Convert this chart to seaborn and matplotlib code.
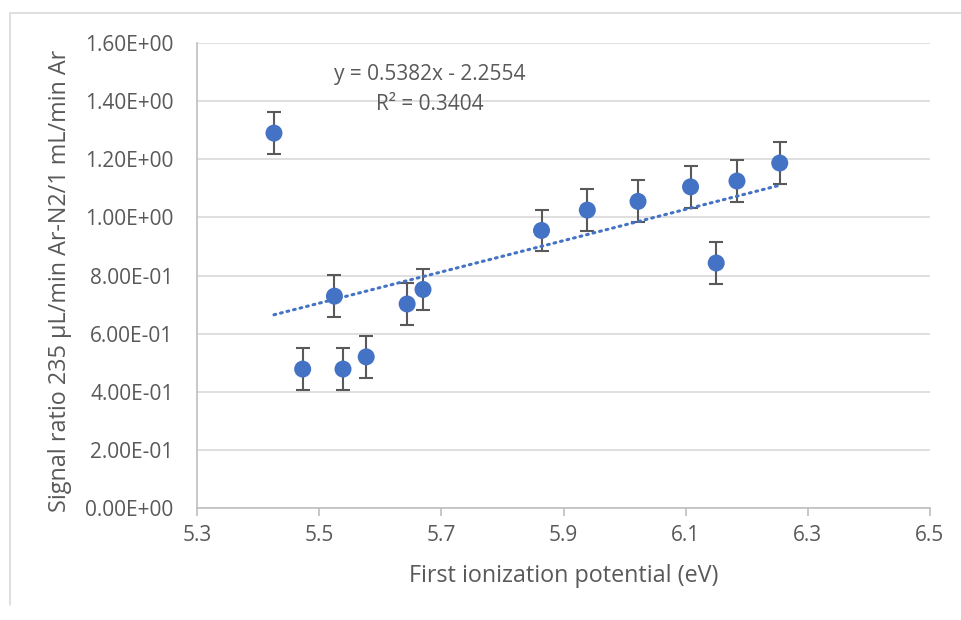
import numpy as np
import pandas as pd
import seaborn as sns
import matplotlib.pyplot as plt
from matplotlib.lines import Line2D

# First ionization potential (eV) and signal ratio
ip_ev = [5.426, 5.473, 5.525, 5.539, 5.577, 5.644, 5.670,
         5.864, 5.939, 6.022, 6.108, 6.150, 6.184, 6.254]
ratio = [1.290, 0.478, 0.729, 0.478, 0.520, 0.702, 0.752,
         0.955, 1.025, 1.055, 1.105, 0.843, 1.125, 1.187]
err = [0.072] * len(ratio)

# trendline shown on chart
slope, intercept = 0.5382, -2.2554
r2 = 0.3404

df = pd.DataFrame({'ip': ip_ev, 'ratio': ratio, 'err': err})

sns.set_style('white')
plt.rcParams['font.family'] = ['Open Sans', 'DejaVu Sans']
text_col = '#595959'
blue = '#4472C4'

fig = plt.figure(figsize=(9.61, 6.2), dpi=100)
ax = fig.add_axes([197 / 961, 1 - 508 / 620, 733 / 961, 465 / 620])

# outer chart border
fig.add_artist(Line2D([10 / 961, 1.0], [1 - 13 / 620, 1 - 13 / 620], color='#d9d9d9', lw=1.2))
fig.add_artist(Line2D([10 / 961, 10 / 961], [1 - 13 / 620, 1 - 605 / 620], color='#d9d9d9', lw=1.2))

ax.errorbar(df['ip'], df['ratio'], yerr=df['err'], fmt='none',
            ecolor='#595959', elinewidth=1.5, capsize=5, capthick=1.5, zorder=2)
sns.scatterplot(data=df, x='ip', y='ratio', ax=ax, color=blue, s=150,
                edgecolor='none', zorder=3, legend=False)

xs = np.array([min(ip_ev), max(ip_ev)])
ax.plot(xs, slope * xs + intercept, color=blue, lw=2.2, ls=(0, (0.6, 1.6)),
        dash_capstyle='round', zorder=4)

ax.text(5.681, 1.49, 'y = %.4fx - %.4f' % (slope, -intercept), ha='center', va='center',
        fontsize=15, color=text_col)
ax.text(5.681, 1.387, 'R² = %.4f' % r2, ha='center', va='center',
        fontsize=15, color=text_col)

ax.set_xlim(5.3, 6.5)
ax.set_ylim(0, 1.6)
ax.set_xticks(np.arange(5.3, 6.51, 0.2))
ax.set_xticklabels(['5.3', '5.5', '5.7', '5.9', '6.1', '6.3', '6.5'])
yt = np.arange(0, 1.61, 0.2)
ax.set_yticks(yt)
ax.set_yticklabels(['%.2E' % v for v in yt])
ax.grid(axis='y', color='#d9d9d9', lw=1.2)
ax.set_axisbelow(True)

for s in ['top', 'right']:
    ax.spines[s].set_visible(False)
for s in ['left', 'bottom']:
    ax.spines[s].set_color('#bfbfbf')
    ax.spines[s].set_linewidth(1.2)
ax.tick_params(axis='x', length=6, color='#bfbfbf', width=1.2, labelsize=15,
               labelcolor=text_col, pad=6, bottom=True)
ax.tick_params(axis='y', length=0, labelsize=15, labelcolor=text_col, pad=17)

ax.set_xlabel('First ionization potential (eV)', fontsize=16.8, color=text_col, va='center')
ax.set_ylabel('Signal ratio 235 µL/min Ar-N2/1 mL/min Ar', fontsize=16.8,
              color=text_col, va='center')
ax.xaxis.set_label_coords(0.5, (508 - 576) / 465)
ax.yaxis.set_label_coords((60 - 197) / 733, (508 - 281) / 465)

fig.savefig('out.png', dpi=100)
